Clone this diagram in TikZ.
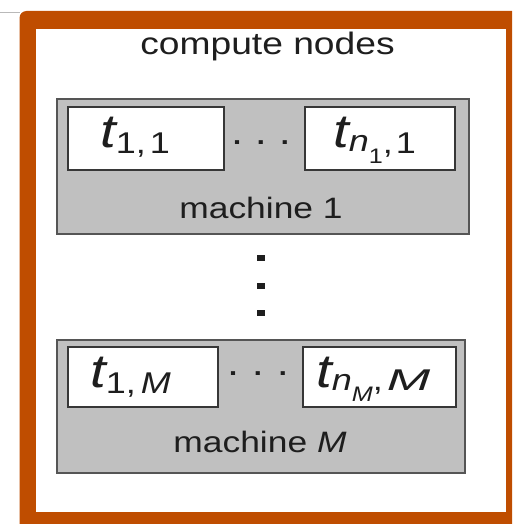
\documentclass[tikz,border=0pt]{standalone}
\usepackage{fontspec}
\setmainfont{Liberation Sans}[FakeStretch=1.2]
\definecolor{frameorange}{RGB}{191,77,0}
\definecolor{machinegray}{RGB}{192,192,192}
\definecolor{machineedge}{RGB}{85,85,85}
\definecolor{taskedge}{RGB}{55,55,55}
\definecolor{ink}{RGB}{30,30,30}
\definecolor{rulegray}{RGB}{185,185,185}

% task label pieces: big italic t, subscript and second-level subscript
\newcommand\bigt{{\fontsize{47}{47}\selectfont\itshape t}}
\newcommand\subtxt[2][-6pt]{\raisebox{#1}{\fontsize{30}{30}\selectfont #2}}
\newcommand\subsubtxt[2][-16pt]{\raisebox{#1}{\fontsize{21}{21}\selectfont #2}}

\tikzset{
  machinebox/.style={draw=machineedge, fill=machinegray, line width=2pt,
    inner sep=0pt, anchor=north west},
  taskbox/.style={draw=taskedge, fill=white, line width=1.8pt,
    inner sep=0pt, anchor=north west},
  tasklabel/.style={inner sep=0pt, text=ink, anchor=base west},
  caption/.style={inner sep=0pt, text=ink, anchor=base},
  hdots/.style={inner sep=0pt, text=ink, anchor=base,
    font=\fontsize{36}{36}\selectfont},
  vdot/.style={fill=ink, draw=none, inner sep=0pt, minimum width=8pt,
    minimum height=6pt},
}

\begin{document}
\begin{tikzpicture}[x=1pt,y=-1pt]
  \useasboundingbox (0,0) rectangle (512,524);
  \clip (0,0) rectangle (512,524);

  % thin rule and the orange frame
  \draw[rulegray, line width=1pt] (0,13) -- (20,13);
  \fill[frameorange, rounded corners=7pt] (19.5,11) rectangle (545,550);
  \fill[white] (36,29) rectangle (506,512);

  \node[caption, font=\fontsize{31}{31}\selectfont] (title) at (267.5,55) {compute nodes};

  % machine 1
  \node[machinebox, minimum width=412pt, minimum height=135pt] (m1) at (56,98) {};
  \node[taskbox, minimum width=156pt, minimum height=63pt] (a1) at (67,106) {};
  \node[taskbox, minimum width=150pt, minimum height=63pt] (b1) at (304,106) {};
  \node[tasklabel] (ta1) at (100,147) {\bigt\subtxt{1,\kern4pt1}};
  \node[tasklabel] (tb1) at (333,147) {\bigt\subtxt[-4pt]{\itshape n}\subsubtxt{1}\subtxt{,\kern3pt1}};
  \node[hdots] (d1) at (261,144) {.\hspace{12pt}.\hspace{12pt}.};
  \node[caption, font=\fontsize{29.5}{29.5}\selectfont] (c1) at (261,218) {machine 1};

  % vertical ellipsis between the machines
  \node[vdot] (v1) at (261,258) {};
  \node[vdot] (v2) at (261,286) {};
  \node[vdot] (v3) at (261,313) {};

  % machine M
  \node[machinebox, minimum width=408pt, minimum height=133pt] (mM) at (56,339) {};
  \node[taskbox, minimum width=150pt, minimum height=60pt] (aM) at (67,346) {};
  \node[taskbox, minimum width=153pt, minimum height=60pt] (bM) at (302,346) {};
  \node[tasklabel] (taM) at (90,387) {\bigt\subtxt{1,\kern5pt\itshape M}};
  \node[tasklabel] (tbM) at (316,387) {\bigt\subtxt[-3pt]{\itshape n}\subsubtxt[-14pt]{\itshape M}\subtxt[-3pt]{,\kern4pt\scalebox{1.45}[1]{\itshape M}}};
  \node[hdots] (dM) at (258,375) {.\hspace{13pt}.\hspace{13pt}.};
  \node[caption, font=\fontsize{29.5}{29.5}\selectfont] (cM) at (260,452) {machine \textit{M}};
\end{tikzpicture}
\end{document}
